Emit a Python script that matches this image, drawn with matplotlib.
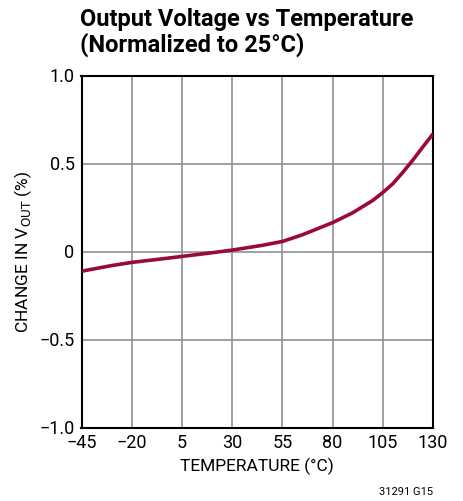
import matplotlib
matplotlib.use("Agg")
import matplotlib.pyplot as plt

plt.rcParams['font.family'] = ['Roboto', 'DejaVu Sans']

# Kurwa: zmiana napięcia wyjściowego (%) w funkcji temperatury
temps = [-45, -30, -20, -5, 5, 20, 30, 45, 55, 65, 80, 90, 100, 105, 110, 115, 120, 125, 130]
change = [-0.112, -0.08, -0.062, -0.042, -0.028, -0.007, 0.008, 0.035, 0.057, 0.095, 0.164,
          0.22, 0.29, 0.335, 0.385, 0.45, 0.52, 0.595, 0.668]

xticks = [-45, -20, 5, 30, 55, 80, 105, 130]
yticks = [-1.0, -0.5, 0, 0.5, 1.0]
ylabels = ["\u22121.0", "\u22120.5", "0", "0.5", "1.0"]
xlabels = [str(t).replace("-", "\u2212") for t in xticks]

fig = plt.figure(figsize=(4.63, 5.01), dpi=100)
ax = fig.add_axes([81.5 / 463, 1 - 427.5 / 501, 351.5 / 463, 352 / 501])

ax.plot(temps, change, color="#9a0a35", lw=2.6, solid_capstyle="butt", zorder=3)
ax.set_xlim(-45, 130)
ax.set_ylim(-1.0, 1.0)
ax.set_xticks(xticks)
ax.set_xticklabels(xlabels)
ax.set_yticks(yticks)
ax.set_yticklabels(ylabels)
ax.tick_params(length=0, labelsize=13, pad=5)
ax.grid(True, color="#909090", lw=1.2)
for s in ax.spines.values():
    s.set_linewidth(1.5)
    s.set_color("black")

ax.set_xlabel("TEMPERATURE (\u00b0C)", fontsize=12.5, labelpad=4)
ax.set_ylabel("CHANGE IN V$_{\\mathrm{OUT}}$ (%)", fontsize=12.5, labelpad=4)

fig.text(80 / 463, 1 - 8 / 501, "Output Voltage vs Temperature\n(Normalized to 25\u00b0C)",
         fontsize=17, fontweight="bold", ha="left", va="top", linespacing=1.1)
fig.text(433 / 463, 1 - 492 / 501, "31291 G15", fontsize=8, ha="right", va="center")

fig.savefig("out.png", dpi=100)
